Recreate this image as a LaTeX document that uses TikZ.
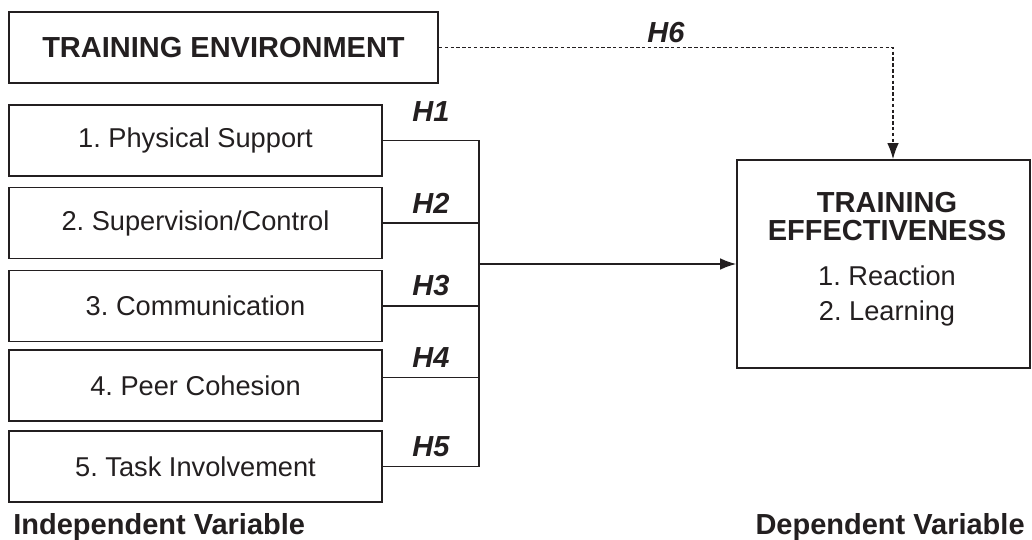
\documentclass[tikz,border=0pt]{standalone}
\usepackage{fontspec}
\setmainfont{Liberation Sans}
\usetikzlibrary{arrows.meta}
\definecolor{ink}{RGB}{35,31,32}
\frenchspacing

\begin{document}
\begin{tikzpicture}[ink, line width=0.6pt,
  factor/.style={draw, line width=1.1pt, minimum width=7.46cm, minimum height=1.42cm, font=\fontsize{15.5}{18}\selectfont},
  hyp/.style={above=2pt, font=\fontsize{16.5}{18}\selectfont\bfseries\itshape},
  varlabel/.style={font=\fontsize{16.5}{18}\selectfont\bfseries},
  tip/.style={-{Latex[length=9pt,width=6.5pt]}}]
  \useasboundingbox (0,0) rectangle (20.64,-10.8);

  % boxes
  \node[factor, minimum width=8.58cm, font=\fontsize{16.5}{18}\selectfont\bfseries] (env) at (4.47,-0.95) {TRAINING ENVIRONMENT};
  \node[factor] (p1) at (3.91,-2.81) {1. Physical Support};
  \node[factor] (p2) at (3.91,-4.46) {2. Supervision/Control};
  \node[factor] (p3) at (3.91,-6.12) {3. Communication};
  \node[factor] (p4) at (3.91,-7.71) {4. Peer Cohesion};
  \node[factor] (p5) at (3.91,-9.33) {5. Task Involvement};
  \node[draw, line width=1.1pt, minimum width=5.86cm, minimum height=4.16cm] (eff) at (17.67,-5.28) {};
  \node[align=center, font=\fontsize{16.5}{15.5}\selectfont\bfseries] (efftitle) at (17.74,-4.33) {TRAINING\\EFFECTIVENESS};
  \node[align=center, font=\fontsize{15.5}{20.4}\selectfont] (efflist) at (17.74,-5.92) {1. Reaction\\2. Learning};

  \node[varlabel, anchor=west] (indep) at (0.14,-10.54) {Independent Variable};
  \node[varlabel, anchor=east] (dep) at (20.62,-10.54) {Dependent Variable};

  % connectors
  \coordinate (bus) at (9.58,-5.28);
  \coordinate (turn) at (17.86,-0.95);
  \draw (p1.east) -- node[hyp, above=5pt] {H1} (p1.east -| bus);
  \draw (p2.east) -- node[hyp] {H2} (p2.east -| bus);
  \draw (p3.east) -- node[hyp] {H3} (p3.east -| bus);
  \draw ([yshift=0.16cm]p4.east) -- node[hyp] {H4} ([yshift=0.16cm]p4.east -| bus);
  \draw (p5.east) -- node[hyp] {H5} (p5.east -| bus);
  \draw (p1.east -| bus) -- (p5.east -| bus);
  \draw[tip] (bus) -- (eff.west);
  \draw[tip, dash pattern=on 2pt off 1.3pt] (env.east) -- node[hyp, above=-3pt] {H6} (turn) -- (turn |- eff.north);
\end{tikzpicture}
\end{document}
